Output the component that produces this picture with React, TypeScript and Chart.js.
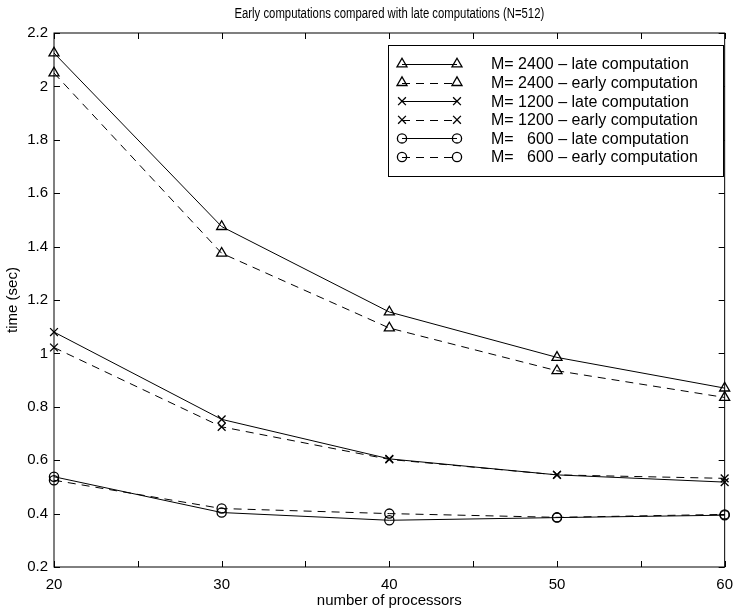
import React, { useEffect, useRef } from 'react';
import { Chart, registerables } from 'chart.js';

Chart.register(...registerables);

const processors = [20, 30, 40, 50, 60];
const m2400Late = [2.125, 1.475, 1.155, 0.985, 0.87];
const m2400Early = [2.05, 1.375, 1.095, 0.935, 0.835];
const m1200Late = [1.08, 0.753, 0.605, 0.545, 0.518];
const m1200Early = [1.022, 0.725, 0.603, 0.545, 0.532];
const m600Late = [0.538, 0.404, 0.375, 0.385, 0.394];
const m600Early = [0.525, 0.419, 0.4, 0.386, 0.397];

const seriesLabels = [
  'M= 2400 \u2013 late computation',
  'M= 2400 \u2013 early computation',
  'M= 1200 \u2013 late computation',
  'M= 1200 \u2013 early computation',
  'M=   600 \u2013 late computation',
  'M=   600 \u2013 early computation',
];

const titleText = 'Early computations compared with late computations (N=512)';
const xTitle = 'number of processors';
const yTitle = 'time (sec)';

const FONT = '"Liberation Sans", Arial, Helvetica, sans-serif';

function drawMarker(ctx: CanvasRenderingContext2D, style: string, x: number, y: number, r: number) {
  ctx.beginPath();
  if (style === 'triangle') {
    let rad = 0;
    ctx.moveTo(x + Math.sin(rad) * r, y - Math.cos(rad) * r);
    rad += (2 * Math.PI) / 3;
    ctx.lineTo(x + Math.sin(rad) * r, y - Math.cos(rad) * r);
    rad += (2 * Math.PI) / 3;
    ctx.lineTo(x + Math.sin(rad) * r, y - Math.cos(rad) * r);
    ctx.closePath();
  } else if (style === 'circle') {
    ctx.arc(x, y, r, 0, Math.PI * 2);
  } else {
    const d = Math.cos(Math.PI / 4) * r;
    ctx.moveTo(x - d, y - d);
    ctx.lineTo(x + d, y + d);
    ctx.moveTo(x - d, y + d);
    ctx.lineTo(x + d, y - d);
  }
  ctx.stroke();
}

const framePlugin = {
  id: 'frame',
  beforeDatasetsDraw(chart: any) {
    const { ctx, chartArea } = chart;
    const { left, right, top, bottom } = chartArea;
    ctx.save();
    ctx.strokeStyle = '#000';
    ctx.lineWidth = 1;
    ctx.strokeRect(left, top, right - left, bottom - top);
    const tl = 6;
    ctx.beginPath();
    chart.scales.x.ticks.forEach((t: any) => {
      const px = Math.round(chart.scales.x.getPixelForValue(t.value)) + 0.5;
      ctx.moveTo(px, bottom);
      ctx.lineTo(px, bottom - tl);
      ctx.moveTo(px, top);
      ctx.lineTo(px, top + tl);
    });
    chart.scales.y.ticks.forEach((t: any) => {
      const py = Math.round(chart.scales.y.getPixelForValue(t.value)) + 0.5;
      ctx.moveTo(left, py);
      ctx.lineTo(left + tl, py);
      ctx.moveTo(right, py);
      ctx.lineTo(right - tl, py);
    });
    ctx.stroke();
    ctx.restore();
  },
  afterDraw(chart: any) {
    const { ctx, chartArea } = chart;
    const cx = (chartArea.left + chartArea.right) / 2;
    ctx.save();
    ctx.fillStyle = '#000';
    ctx.textAlign = 'center';
    ctx.textBaseline = 'middle';
    ctx.save();
    ctx.translate(cx, 14);
    ctx.scale(0.81, 1);
    ctx.font = '14px ' + FONT;
    ctx.fillText(titleText, 0, 0);
    ctx.restore();
    ctx.font = '15px ' + FONT;
    ctx.fillText(xTitle, cx, 601);
    ctx.save();
    ctx.translate(13, (chartArea.top + chartArea.bottom) / 2);
    ctx.rotate(-Math.PI / 2);
    ctx.fillText(yTitle, 0, 0);
    ctx.restore();

    // legend
    const bx = 388, by = 45, bw = 335, bh = 131;
    ctx.fillStyle = '#fff';
    ctx.fillRect(bx, by, bw, bh);
    ctx.strokeStyle = '#000';
    ctx.lineWidth = 1;
    ctx.strokeRect(bx + 0.5, by + 0.5, bw, bh);
    ctx.font = '16px ' + FONT;
    ctx.textAlign = 'left';
    ctx.fillStyle = '#000';
    chart.data.datasets.forEach((ds: any, i: number) => {
      const y = 64 + i * 18.6;
      const x1 = 402, x2 = 457;
      ctx.save();
      ctx.lineWidth = 1;
      ctx.setLineDash(ds.borderDash || []);
      ctx.beginPath();
      ctx.moveTo(x1, Math.round(y) + 0.5);
      ctx.lineTo(x2, Math.round(y) + 0.5);
      ctx.stroke();
      ctx.setLineDash([]);
      ctx.lineWidth = ds.pointBorderWidth;
      drawMarker(ctx, ds.pointStyle, x1, y, ds.pointRadius);
      drawMarker(ctx, ds.pointStyle, x2, y, ds.pointRadius);
      ctx.restore();
      ctx.fillText(ds.label, 491, y + 1);
    });
    ctx.restore();
  },
};

export default function App() {
  const ref = useRef<HTMLCanvasElement>(null);
  useEffect(() => {
    document.body.style.margin = '0';
    const mk = (label: string, vals: number[], style: string, dashed: boolean, r: number) => ({
      label,
      data: processors.map((p, i) => ({ x: p, y: vals[i] })),
      borderColor: '#000',
      backgroundColor: 'rgba(0,0,0,0)',
      borderWidth: 1,
      borderDash: dashed ? [8, 6] : [],
      pointStyle: style,
      pointRadius: r,
      pointBorderWidth: 1.3,
      pointBorderColor: '#000',
      pointBackgroundColor: 'rgba(0,0,0,0)',
      tension: 0,
      clip: false,
    });
    const chart = new Chart(ref.current!, {
      type: 'line',
      data: {
        datasets: [
          mk(seriesLabels[0], m2400Late, 'triangle', false, 5.8),
          mk(seriesLabels[1], m2400Early, 'triangle', true, 5.8),
          mk(seriesLabels[2], m1200Late, 'crossRot', false, 5.5),
          mk(seriesLabels[3], m1200Early, 'crossRot', true, 5.5),
          mk(seriesLabels[4], m600Late, 'circle', false, 4.6),
          mk(seriesLabels[5], m600Early, 'circle', true, 4.6),
        ],
      },
      options: {
        animation: false,
        responsive: false,
        devicePixelRatio: 1,
        layout: { padding: { top: 33, right: 8, left: 0, bottom: 0 } },
        plugins: { legend: { display: false }, tooltip: { enabled: false }, title: { display: false } },
        scales: {
          x: {
            type: 'linear',
            min: 20,
            max: 60,
            grid: { display: false, drawTicks: false },
            border: { display: false },
            ticks: {
              stepSize: 5,
              autoSkip: false,
              maxRotation: 0,
              padding: 9,
              color: '#000',
              font: { family: FONT, size: 15 },
              callback: (v: any) => (Number(v) % 10 === 0 ? String(v) : ''),
            },
            afterFit: (s: any) => {
              s.height = 46;
            },
          },
          y: {
            type: 'linear',
            min: 0.2,
            max: 2.2,
            grid: { display: false, drawTicks: false },
            border: { display: false },
            ticks: {
              stepSize: 0.2,
              padding: 6,
              color: '#000',
              font: { family: FONT, size: 15 },
              callback: (v: any) => String(Number(Number(v).toFixed(1))),
            },
            afterFit: (s: any) => {
              s.width = 54;
            },
          },
        },
      },
      plugins: [framePlugin],
    } as any);
    return () => chart.destroy();
  }, []);
  return (
    <div style={{ width: 742, height: 613 }}>
      <canvas ref={ref} width={742} height={613} style={{ display: 'block' }} />
    </div>
  );
}
